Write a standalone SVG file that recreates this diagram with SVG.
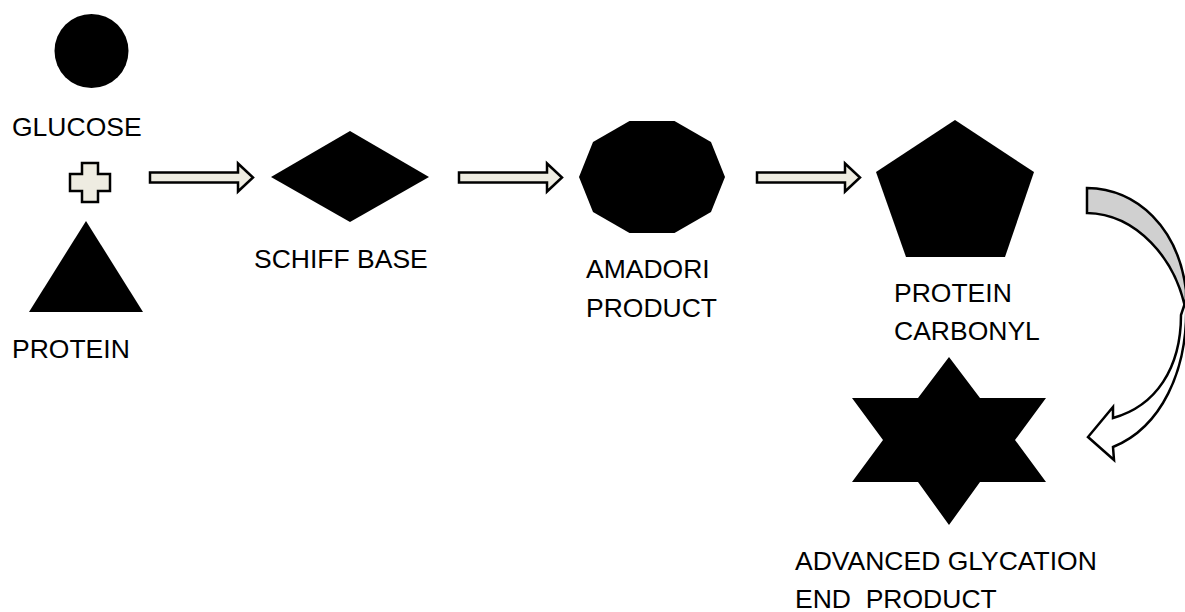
<svg xmlns="http://www.w3.org/2000/svg" width="1185" height="612" viewBox="0 0 1185 612">
<style>
.shape{fill:#000;stroke:none}
.lbl{font-family:"Liberation Sans",Arial,sans-serif;font-size:26.5px;fill:#000}
.blk{fill:#EEECE1;stroke:#000;stroke-width:2.5;stroke-linejoin:miter}
.curve{stroke:#000;stroke-width:2.5;stroke-linejoin:miter}
</style>
<defs>
<path id="blockArrow" d="M0,-5 H88 V-14 L103,0 L88,14 V5 H0 Z"/>
</defs>
<rect width="1185" height="612" fill="#fff"/>
<g id="glucose">
<circle class="shape" cx="91.5" cy="51" r="37"/>
<text class="lbl" x="12" y="136">GLUCOSE</text>
</g>
<g id="plus">
<path class="blk" d="M82,163 H98 V174 H110 V191 H98 V202 H82 V191 H70 V174 H82 Z"/>
</g>
<g id="protein">
<polygon class="shape" points="86,221 143,312 29,312"/>
<text class="lbl" x="12" y="358">PROTEIN</text>
</g>
<g id="schiff-base">
<polygon class="shape" points="271,177 350,131 429,177 350,222"/>
<text class="lbl" x="254" y="268">SCHIFF BASE</text>
</g>
<g id="amadori-product">
<polygon class="shape" points="725,177 711,142 674.5,121 629.5,121 593,142 579,177 593,212 629.5,233 674.5,233 711,212"/>
<text class="lbl" x="586" y="278">AMADORI</text>
<text class="lbl" x="586" y="317">PRODUCT</text>
</g>
<g id="protein-carbonyl">
<polygon class="shape" points="955,120 1034,172 1005,257 906,257 876,172"/>
<text class="lbl" x="894" y="302">PROTEIN</text>
<text class="lbl" x="894" y="340">CARBONYL</text>
</g>
<g id="age">
<polygon class="shape" points="949,357 980,398 1046,398 1015,440 1046,482 980,482 949,525 918,482 852,482 883,440 852,398 918,398"/>
<text class="lbl" x="795" y="570">ADVANCED GLYCATION</text>
<text class="lbl" x="795" y="608" xml:space="preserve">END  PRODUCT</text>
</g>
<g id="connectors">
<use href="#blockArrow" class="blk" transform="translate(150,177.5)"/>
<use href="#blockArrow" class="blk" transform="translate(459,177.5)"/>
<use href="#blockArrow" class="blk" transform="translate(757,177.5)"/>
<path class="curve" fill="#D0D0D0" d="M1087,188 C1138,189 1178,228 1186,290 L1186,312 C1176,258 1136,214 1087,213 Z"/>
<path class="curve" fill="#fff" d="M1186,300 C1189,372 1160,428 1113,447 L1114,460 L1088,437 L1113,407 L1113,418 C1156,406 1181,368 1181,315 Z"/>
</g>
</svg>
